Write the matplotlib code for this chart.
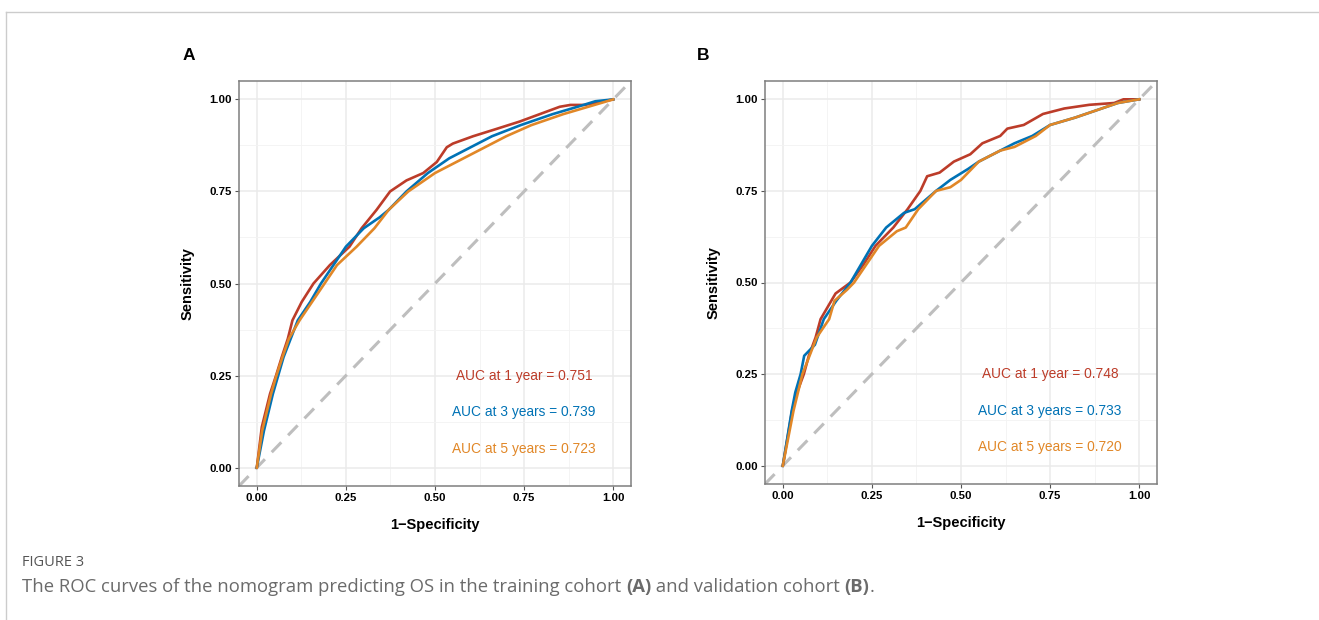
import matplotlib.pyplot as plt
import numpy as np

plt.rcParams['font.family'] = ['Liberation Sans', 'DejaVu Sans']

# panel A (training cohort)
a_red_x = [0, 0.014, 0.037, 0.054, 0.07, 0.087, 0.10, 0.126, 0.159, 0.205, 0.26, 0.294, 0.336, 0.374,
           0.42, 0.467, 0.505, 0.533, 0.55, 0.607, 0.673, 0.738, 0.794, 0.85, 0.88, 0.92, 1.0]
a_red_y = [0, 0.11, 0.20, 0.25, 0.30, 0.35, 0.40, 0.45, 0.50, 0.55, 0.60, 0.65, 0.70, 0.75,
           0.78, 0.80, 0.83, 0.87, 0.88, 0.90, 0.92, 0.94, 0.96, 0.98, 0.985, 0.985, 1.0]
a_blue_x = [0, 0.02, 0.045, 0.06, 0.075, 0.095, 0.115, 0.15, 0.18, 0.215, 0.25, 0.30, 0.345, 0.37,
            0.42, 0.48, 0.54, 0.60, 0.66, 0.74, 0.83, 0.90, 0.95, 1.0]
a_blue_y = [0, 0.10, 0.20, 0.25, 0.30, 0.35, 0.40, 0.45, 0.50, 0.55, 0.60, 0.65, 0.68, 0.70,
            0.75, 0.80, 0.84, 0.87, 0.90, 0.93, 0.96, 0.98, 0.995, 1.0]
a_orange_x = [0, 0.015, 0.04, 0.055, 0.072, 0.09, 0.12, 0.155, 0.19, 0.225, 0.28, 0.33, 0.37,
              0.425, 0.50, 0.58, 0.64, 0.70, 0.77, 0.86, 0.93, 1.0]
a_orange_y = [0, 0.10, 0.20, 0.25, 0.30, 0.35, 0.40, 0.45, 0.50, 0.55, 0.60, 0.65, 0.70,
              0.75, 0.80, 0.84, 0.87, 0.90, 0.93, 0.96, 0.98, 1.0]

# panel B (validation cohort)
b_red_x = [0, 0.026, 0.04, 0.059, 0.073, 0.092, 0.106, 0.124, 0.148, 0.19, 0.227, 0.26, 0.31, 0.35,
           0.386, 0.405, 0.44, 0.48, 0.526, 0.56, 0.61, 0.63, 0.676, 0.73, 0.79, 0.86, 0.93, 0.956, 1.0]
b_red_y = [0, 0.15, 0.20, 0.25, 0.30, 0.35, 0.40, 0.43, 0.47, 0.50, 0.55, 0.60, 0.65, 0.70,
           0.75, 0.79, 0.80, 0.83, 0.85, 0.88, 0.90, 0.92, 0.93, 0.96, 0.975, 0.985, 0.99, 1.0, 1.0]
b_blue_x = [0, 0.025, 0.035, 0.05, 0.06, 0.09, 0.115, 0.15, 0.19, 0.22, 0.25, 0.29, 0.34, 0.37,
            0.43, 0.47, 0.52, 0.55, 0.61, 0.65, 0.70, 0.75, 0.82, 0.88, 0.94, 1.0]
b_blue_y = [0, 0.15, 0.20, 0.25, 0.30, 0.33, 0.40, 0.45, 0.50, 0.55, 0.60, 0.65, 0.69, 0.70,
            0.75, 0.78, 0.81, 0.83, 0.86, 0.88, 0.90, 0.93, 0.95, 0.97, 0.99, 1.0]
b_orange_x = [0, 0.03, 0.055, 0.075, 0.095, 0.13, 0.145, 0.18, 0.20, 0.235, 0.27, 0.32, 0.345,
              0.38, 0.43, 0.47, 0.50, 0.55, 0.61, 0.65, 0.71, 0.75, 0.82, 0.88, 0.94, 1.0]
b_orange_y = [0, 0.15, 0.25, 0.30, 0.35, 0.40, 0.45, 0.48, 0.50, 0.55, 0.60, 0.64, 0.65,
              0.70, 0.75, 0.76, 0.78, 0.83, 0.86, 0.87, 0.90, 0.93, 0.95, 0.97, 0.99, 1.0]

auc_a = [0.751, 0.739, 0.723]
auc_b = [0.748, 0.733, 0.720]
auc_labels = ['AUC at 1 year', 'AUC at 3 years', 'AUC at 5 years']
colors = ['#BC3C29', '#0072B5', '#E18727']
ticks = [0, 0.25, 0.5, 0.75, 1.0]
tick_labels = ['0.00', '0.25', '0.50', '0.75', '1.00']


def roc_panel(ax, curves, aucs):
    ax.set_xlim(-0.05, 1.05)
    ax.set_ylim(-0.05, 1.05)
    ax.set_xticks(ticks)
    ax.set_yticks(ticks)
    ax.set_xticks([0.125, 0.375, 0.625, 0.875], minor=True)
    ax.set_yticks([0.125, 0.375, 0.625, 0.875], minor=True)
    ax.set_xticklabels(tick_labels, fontsize=8.2, fontweight='bold')
    ax.set_yticklabels(tick_labels, fontsize=8.2, fontweight='bold')
    ax.grid(True, which='major', color='#EBEBEB', lw=1.1)
    ax.grid(True, which='minor', color='#F3F3F3', lw=0.6)
    ax.set_axisbelow(True)
    ax.tick_params(which='major', length=3, width=0.8, color='#555555', pad=2)
    ax.tick_params(which='minor', length=0)
    for s in ax.spines.values():
        s.set_color('#7F7F7F')
        s.set_linewidth(1.1)
    ax.plot([-0.05, 1.05], [-0.05, 1.05], color='#BEBEBE', lw=2.2, dashes=(4.5, 3.2), zorder=1)
    for (cx, cy), c in zip(curves, colors):
        ax.plot(cx, cy, color=c, lw=1.9, zorder=2)
    for lab, v, yy, c in zip(auc_labels, aucs, [0.25, 0.15, 0.05], colors):
        ax.text(0.75, yy, '%s = %.3f' % (lab, v), color=c, fontsize=9.9, ha='center', va='center')
    ax.set_xlabel('1\u2212Specificity', fontsize=10.5, fontweight='bold', labelpad=11)
    ax.set_ylabel('Sensitivity', fontsize=10.5, fontweight='bold', labelpad=11)


fig = plt.figure(figsize=(13.19, 6.2), dpi=100)
ax1 = fig.add_axes([239 / 1319, 1 - 486 / 620, 392 / 1319, 405 / 620])
ax2 = fig.add_axes([765 / 1319, 1 - 484 / 620, 392 / 1319, 403 / 620])
roc_panel(ax1, [(a_red_x, a_red_y), (a_blue_x, a_blue_y), (a_orange_x, a_orange_y)], auc_a)
roc_panel(ax2, [(b_red_x, b_red_y), (b_blue_x, b_blue_y), (b_orange_x, b_orange_y)], auc_b)

fig.text(188.5 / 1319, 1 - 55.5 / 620, 'A', fontsize=12.5, fontweight='bold', ha='center', va='center')
fig.text(703 / 1319, 1 - 55 / 620, 'B', fontsize=12.5, fontweight='bold', ha='center', va='center')

# page frame
fig.add_artist(plt.Line2D([6 / 1319, 1], [1 - 12 / 620] * 2, color='#CCCCCC', lw=1))
fig.add_artist(plt.Line2D([6 / 1319] * 2, [0, 1 - 12 / 620], color='#CCCCCC', lw=1))

# caption, bold panel letters chained after the plain text
cap_font = ['Open Sans', 'DejaVu Sans']
fig.text(22 / 1319, 1 - 563 / 620, 'FIGURE 3', fontsize=10.5, color='#555555', family=cap_font, va='center')
parts = [('The ROC curves of the nomogram predicting OS in the training cohort ', 'normal'),
         ('(A)', 'bold'), (' and validation cohort ', 'normal'), ('(B)', 'bold'), ('.', 'normal')]
anchor = fig.text(22 / 1319, 1 - 587 / 620, parts[0][0], fontsize=13.3, color='#6B6B6B',
                  family=cap_font, va='center')
for txt, w in parts[1:]:
    t = plt.Annotation(txt, xy=(1, 0), xycoords=anchor, va='bottom', ha='left',
                       fontsize=13.3, color='#6B6B6B', family=cap_font, fontweight=w)
    fig.add_artist(t)
    anchor = t

fig.savefig('out.png', dpi=100)
